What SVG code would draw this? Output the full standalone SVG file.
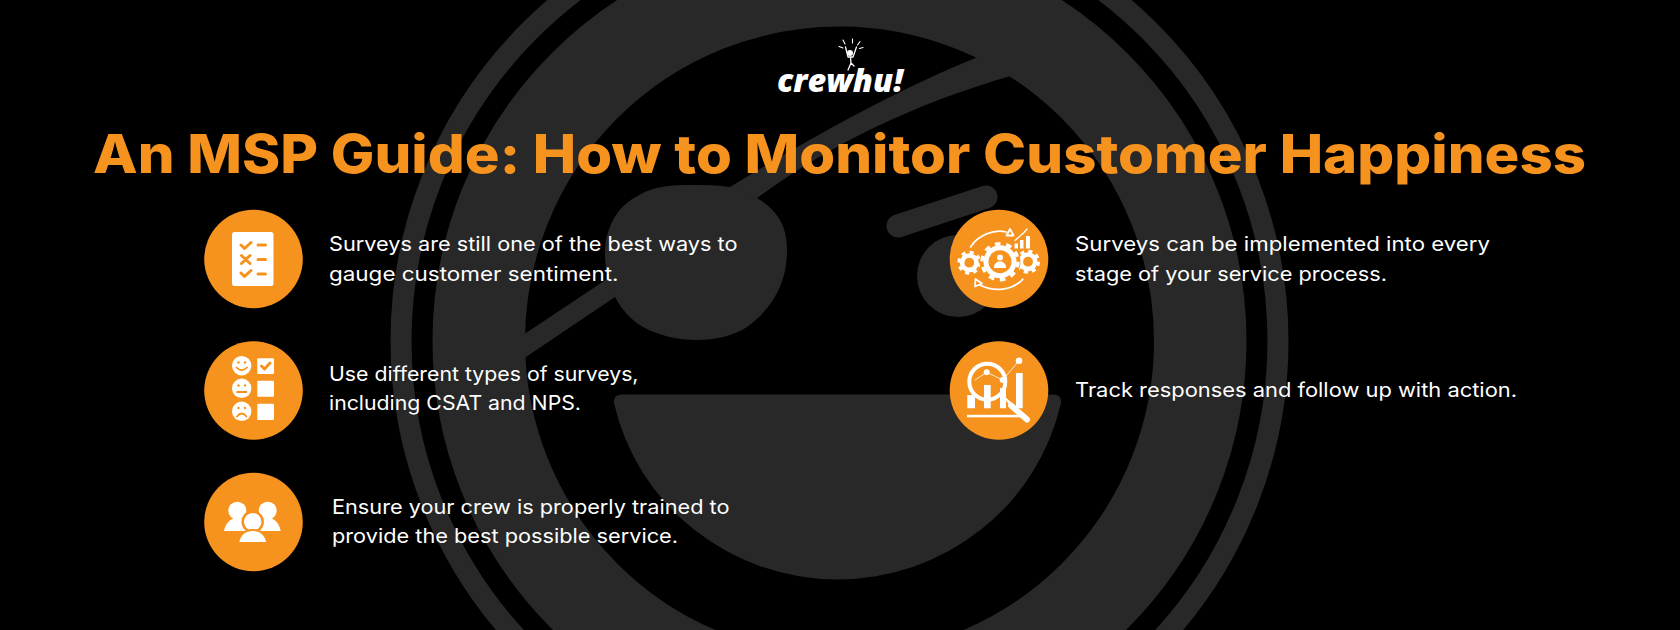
<svg xmlns="http://www.w3.org/2000/svg" width="1680" height="630" viewBox="0 0 1680 630">
<style>
.g{fill:#282828}
.o{fill:#f6931e}
.w{fill:#fff}
.t{font-family:"Inter","Open Sans","Liberation Sans",sans-serif;font-size:20px;font-weight:400;fill:#fff}
.title{font-family:"Inter","Open Sans","Liberation Sans",sans-serif;font-size:53px;font-weight:800;fill:#f6931e}
.ol{fill:none;stroke:#f6931e;stroke-width:3;stroke-linecap:round;stroke-linejoin:round}
.wl{fill:none;stroke:#fff;stroke-linecap:round;stroke-linejoin:round}
</style>
<defs>
<g id="gear"><circle r="7.200" fill="none" stroke="#fff" stroke-width="4.600"/><circle r="10.500" fill="none" stroke="#fff" stroke-width="3" stroke-dasharray="4.100 4.150"/></g>
</defs>
<rect width="1680" height="630" fill="#000"/>
<g id="background-logo">
<circle cx="839.500" cy="341" r="438.500" fill="none" stroke="#282828" stroke-width="21"/>
<circle cx="839.500" cy="341" r="360.750" fill="none" stroke="#282828" stroke-width="92.500"/>
<path class="g" d="M978 57C900 88 810 138 730 187L610 277L520 337L520 361L615 297L757 198C830 145 910 105 1014 75Z"/>
<path class="g" d="M730 187C716 185 703 185 690 185C668 185 654 187 641 194C627 201 619 209 613 220C607 232 605 242 605 253C605 270 608 284 615 297C622 310 631 320 643 327C660 336 678 340 697 340C715 340 733 336 747 327C760 318 770 306 777 293C784 280 787 265 787 250C787 238 785 229 780 220C775 211 767 204 757 198Z"/>
<path d="M898 226L986 197" fill="none" stroke="#282828" stroke-width="23" stroke-linecap="round"/>
<circle class="g" cx="958" cy="276" r="41"/>
<path class="g" d="M622 394.500H1053Q1062 394.500 1061 403A229 225.500 0 0 1 614 403Q613 394.500 622 394.500Z"/>
</g>
<g id="crewhu-logo">
<text x="777" y="92" font-family="'Open Sans','Liberation Sans',sans-serif" font-size="32" font-weight="800" font-style="italic" fill="#fff" textLength="126" lengthAdjust="spacingAndGlyphs">crewhu!</text>
<circle class="w" cx="850" cy="53" r="3"/>
<path class="wl" stroke-width="1.300" d="M845.500 47L848 57H853L856.500 47M850.500 57L851 63L854 66M851 63L848 70"/>
<path class="wl" stroke-width="1.100" d="M839 46.500L843 48M843 40L845 44M852.500 39V43M860 41.500L857.500 45M863 47.500L859.500 48.500"/>
</g>
<text id="title" class="title" x="93" y="173" textLength="1493" lengthAdjust="spacingAndGlyphs">An MSP Guide: How to Monitor Customer Happiness</text>
<g id="item-surveys-best">
<circle class="o" cx="253.500" cy="259" r="49.300"/>
<rect class="w" x="232" y="232" width="41.500" height="54" rx="2.500"/>
<path class="ol" d="M241 245L244.500 248.500L251 242.500M241.500 255.500L250 263.500M250 255.500L241.500 263.500M241 273L244.500 276.500L251 270.500M258 245H265.500M258 259.500H265.500M258 274H265.500"/>
<text class="t" x="329" y="251" textLength="408.500" lengthAdjust="spacingAndGlyphs">Surveys are still one of the best ways to</text>
<text class="t" x="329" y="280.500" textLength="289.500" lengthAdjust="spacingAndGlyphs">gauge customer sentiment.</text>
</g>
<g id="item-survey-types">
<circle class="o" cx="253.500" cy="390.500" r="49.300"/>
<circle class="w" cx="241.700" cy="365.700" r="9.700"/><circle class="w" cx="241.700" cy="388.300" r="9.700"/><circle class="w" cx="241.700" cy="411.300" r="9.700"/>
<path fill="none" stroke="#f6931e" stroke-width="1.800" stroke-linecap="round" d="M236.500 367.500Q241.700 373 247 367.500M237 392H246.500M237 416.500Q241.700 410.500 246.500 416.500"/>
<circle class="o" cx="238.500" cy="362.500" r="1.200"/><circle class="o" cx="245" cy="362.500" r="1.200"/><circle class="o" cx="238.500" cy="385.500" r="1.200"/><circle class="o" cx="245" cy="385.500" r="1.200"/><circle class="o" cx="238.500" cy="408" r="1.200"/><circle class="o" cx="245" cy="408" r="1.200"/>
<rect class="w" x="257.300" y="358.300" width="16.700" height="15.700" rx="1"/><rect class="w" x="257.300" y="380.700" width="16.700" height="16" rx="1"/><rect class="w" x="257.300" y="403.700" width="16.700" height="16.300" rx="1"/>
<path class="ol" d="M261.500 366L264.500 369L270 363"/>
<text class="t" x="329" y="381" textLength="309.500" lengthAdjust="spacingAndGlyphs">Use different types of surveys,</text>
<text class="t" x="329" y="410" textLength="252" lengthAdjust="spacingAndGlyphs">including CSAT and NPS.</text>
</g>
<g id="item-crew-training">
<circle class="o" cx="253.500" cy="522" r="49.300"/>
<circle class="w" cx="237.300" cy="510.700" r="9"/><circle class="w" cx="267.700" cy="510.700" r="9"/>
<path class="w" d="M224 531C226 522 231 518 237.300 518C243.700 518 249 522 251 531ZM254 531C256 522 261 518 267.700 518C274 518 279 522 280.700 531Z"/>
<circle class="w" cx="252.700" cy="521.700" r="10" stroke="#f6931e" stroke-width="2.500"/>
<path class="w" stroke="#f6931e" stroke-width="2" stroke-linejoin="round" d="M238 543C240 533 246 530 252.700 530C259.500 530 265.500 533 267.500 543Z"/>
<text class="t" x="332" y="514" textLength="397.500" lengthAdjust="spacingAndGlyphs">Ensure your crew is properly trained to</text>
<text class="t" x="332" y="543" textLength="346" lengthAdjust="spacingAndGlyphs">provide the best possible service.</text>
</g>
<g id="item-service-process">
<circle class="o" cx="999" cy="259" r="49.300"/>
<use href="#gear" x="969.300" y="262.700"/><use href="#gear" x="1028" y="261.700"/>
<circle cx="1000" cy="261.700" r="20.500" fill="#f6931e"/>
<circle cx="1000" cy="261.700" r="16.500" fill="#fff"/>
<circle cx="1000" cy="261.700" r="18" fill="none" stroke="#fff" stroke-width="3.500" stroke-dasharray="5.600 5.710"/>
<circle cx="1000" cy="261.700" r="11.500" fill="#f6931e"/>
<circle class="w" cx="1000" cy="257.500" r="3"/>
<path class="w" d="M994 268C994 263 997 261.500 1000 261.500C1003 261.500 1006 263 1006 268Z"/>
<path class="wl" stroke-width="1.800" d="M970.700 246.700C978 235 994 229 1006 232M1022.700 279.300C1012 291 994 292 980 285"/>
<path fill="none" stroke="#fff" stroke-width="1.800" stroke-linejoin="round" d="M1006.500 235.500H1013.500L1010 229ZM975.500 279L975 286.500L982 283.500Z"/>
<path class="w" d="M1014.500 243.500H1018V248.500H1014.500ZM1020 240H1023.500V248.500H1020ZM1026 236H1030V248.500H1026Z"/>
<path class="wl" stroke-width="1.300" d="M1015 240.500L1024 232.500L1027 229"/>
<text class="t" x="1075" y="251" textLength="415" lengthAdjust="spacingAndGlyphs">Surveys can be implemented into every</text>
<text class="t" x="1075" y="280.500" textLength="312" lengthAdjust="spacingAndGlyphs">stage of your service process.</text>
</g>
<g id="item-track-responses">
<circle class="o" cx="999" cy="390.500" r="49.300"/>
<path class="w" d="M967.300 395H975V408.300H967.300ZM1016 373H1022.700V408.300H1016ZM984 385H990.700V408.300H984ZM1000 388H1006V408.300H1000Z"/>
<rect class="w" x="967" y="414.800" width="56" height="2.500"/>
<circle cx="987.300" cy="381.700" r="18" fill="none" stroke="#fff" stroke-width="4"/>
<path class="wl" stroke-width="6" d="M1011 405.500L1027 419.500"/>
<path class="wl" stroke-width="2.500" d="M1004.500 398L1011 404"/>
<path class="wl" stroke-width="0.800" d="M975 380L986.700 372.300L1002.700 380L1019 360.700"/>
<circle class="w" cx="986.700" cy="372.300" r="3"/><circle class="w" cx="1002.700" cy="380" r="3"/><circle class="w" cx="1019" cy="360.700" r="3.300"/>
<text class="t" x="1075" y="397" textLength="442" lengthAdjust="spacingAndGlyphs">Track responses and follow up with action.</text>
</g>
</svg>
